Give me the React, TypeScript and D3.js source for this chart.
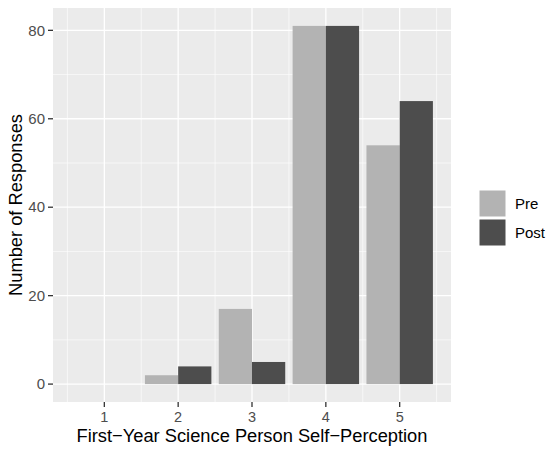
import React, { useEffect, useRef } from "react";
import * as d3 from "d3";

const categories = [1, 2, 3, 4, 5];
const groups = ["Pre", "Post"];
const preValues = [0, 2, 17, 81, 54];
const postValues = [0, 4, 5, 81, 64];
const yTicks = [0, 20, 40, 60, 80];
const yMinor = [10, 30, 50, 70];
const xMinor = [0.5, 1.5, 2.5, 3.5, 4.5, 5.5];
const colors = ["#b3b3b3", "#4d4d4d"];

const width = 550;
const height = 452;

const App = () => {
  const svgRef = useRef<SVGSVGElement>(null);

  useEffect(() => {
    const svg = d3.select(svgRef.current);
    svg.selectAll("*").remove();

    const panel = { left: 53, top: 8, right: 451, bottom: 402 };

    const x = d3.scaleLinear().domain([0.305, 5.695]).range([panel.left, panel.right]);
    const y = d3.scaleLinear().domain([-4.05, 85.05]).range([panel.bottom, panel.top]);

    // panel background
    svg
      .append("rect")
      .attr("x", panel.left)
      .attr("y", panel.top)
      .attr("width", panel.right - panel.left)
      .attr("height", panel.bottom - panel.top)
      .attr("fill", "#ebebeb");

    // minor gridlines
    svg
      .selectAll(".ygrid-minor")
      .data(yMinor)
      .enter()
      .append("line")
      .attr("x1", panel.left)
      .attr("x2", panel.right)
      .attr("y1", (d) => y(d))
      .attr("y2", (d) => y(d))
      .attr("stroke", "#fff")
      .attr("stroke-width", 0.6);

    svg
      .selectAll(".xgrid-minor")
      .data(xMinor)
      .enter()
      .append("line")
      .attr("y1", panel.top)
      .attr("y2", panel.bottom)
      .attr("x1", (d) => x(d))
      .attr("x2", (d) => x(d))
      .attr("stroke", "#fff")
      .attr("stroke-width", 0.6);

    // major gridlines
    svg
      .selectAll(".ygrid")
      .data(yTicks)
      .enter()
      .append("line")
      .attr("x1", panel.left)
      .attr("x2", panel.right)
      .attr("y1", (d) => y(d))
      .attr("y2", (d) => y(d))
      .attr("stroke", "#fff")
      .attr("stroke-width", 1.3);

    svg
      .selectAll(".xgrid")
      .data(categories)
      .enter()
      .append("line")
      .attr("y1", panel.top)
      .attr("y2", panel.bottom)
      .attr("x1", (d) => x(d))
      .attr("x2", (d) => x(d))
      .attr("stroke", "#fff")
      .attr("stroke-width", 1.3);

    // bars, dodged
    const barW = 0.45;
    const series = [preValues, postValues];
    series.forEach((vals, si) => {
      svg
        .selectAll(`.bar-${si}`)
        .data(categories.map((c, i) => ({ c, v: vals[i] })))
        .enter()
        .filter((d) => d.v > 0)
        .append("rect")
        .attr("x", (d) => x(d.c - 0.45 + si * barW))
        .attr("width", x(barW) - x(0))
        .attr("y", (d) => y(d.v))
        .attr("height", (d) => y(0) - y(d.v))
        .attr("fill", colors[si]);
    });

    const font = "'Liberation Sans', Arial, sans-serif";

    // y axis ticks and labels
    const yAxis = svg.append("g");
    yTicks.forEach((t) => {
      yAxis
        .append("line")
        .attr("x1", panel.left - 5)
        .attr("x2", panel.left)
        .attr("y1", y(t))
        .attr("y2", y(t))
        .attr("stroke", "#333")
        .attr("stroke-width", 1.3);
      yAxis
        .append("text")
        .attr("x", panel.left - 8)
        .attr("y", y(t))
        .attr("dy", "0.35em")
        .attr("text-anchor", "end")
        .attr("font-family", font)
        .attr("font-size", 15)
        .attr("fill", "#4d4d4d")
        .text(t);
    });

    // x axis ticks and labels
    const xAxis = svg.append("g");
    categories.forEach((c) => {
      xAxis
        .append("line")
        .attr("x1", x(c))
        .attr("x2", x(c))
        .attr("y1", panel.bottom)
        .attr("y2", panel.bottom + 5)
        .attr("stroke", "#333")
        .attr("stroke-width", 1.3);
      xAxis
        .append("text")
        .attr("x", x(c))
        .attr("y", panel.bottom + 15)
        .attr("dy", "0.35em")
        .attr("text-anchor", "middle")
        .attr("font-family", font)
        .attr("font-size", 14.5)
        .attr("fill", "#4d4d4d")
        .text(c);
    });

    // axis titles
    svg
      .append("text")
      .attr("x", (panel.left + panel.right) / 2)
      .attr("y", 442)
      .attr("text-anchor", "middle")
      .attr("font-family", font)
      .attr("font-size", 18.3)
      .attr("fill", "#000")
      .text("First\u2212Year Science Person Self\u2212Perception");

    svg
      .append("text")
      .attr("transform", `translate(22,${(panel.top + panel.bottom) / 2}) rotate(-90)`)
      .attr("text-anchor", "middle")
      .attr("font-family", font)
      .attr("font-size", 18.3)
      .attr("fill", "#000")
      .text("Number of Responses");

    // legend
    const legend = svg.append("g").attr("transform", "translate(479,190)");
    groups.forEach((g, i) => {
      legend
        .append("rect")
        .attr("x", 0)
        .attr("y", i * 29)
        .attr("width", 27)
        .attr("height", 27)
        .attr("fill", colors[i])
        .attr("stroke", "#fff")
        .attr("stroke-width", 1);
      legend
        .append("text")
        .attr("x", 36)
        .attr("y", i * 29 + 13.5)
        .attr("dy", "0.35em")
        .attr("font-family", font)
        .attr("font-size", 15)
        .attr("fill", "#000")
        .text(g);
    });
  }, []);

  return (
    <svg
      ref={svgRef}
      width={width}
      height={height}
      style={{ position: "absolute", left: 0, top: 0, background: "#fff" }}
    ></svg>
  );
};

export default App;
